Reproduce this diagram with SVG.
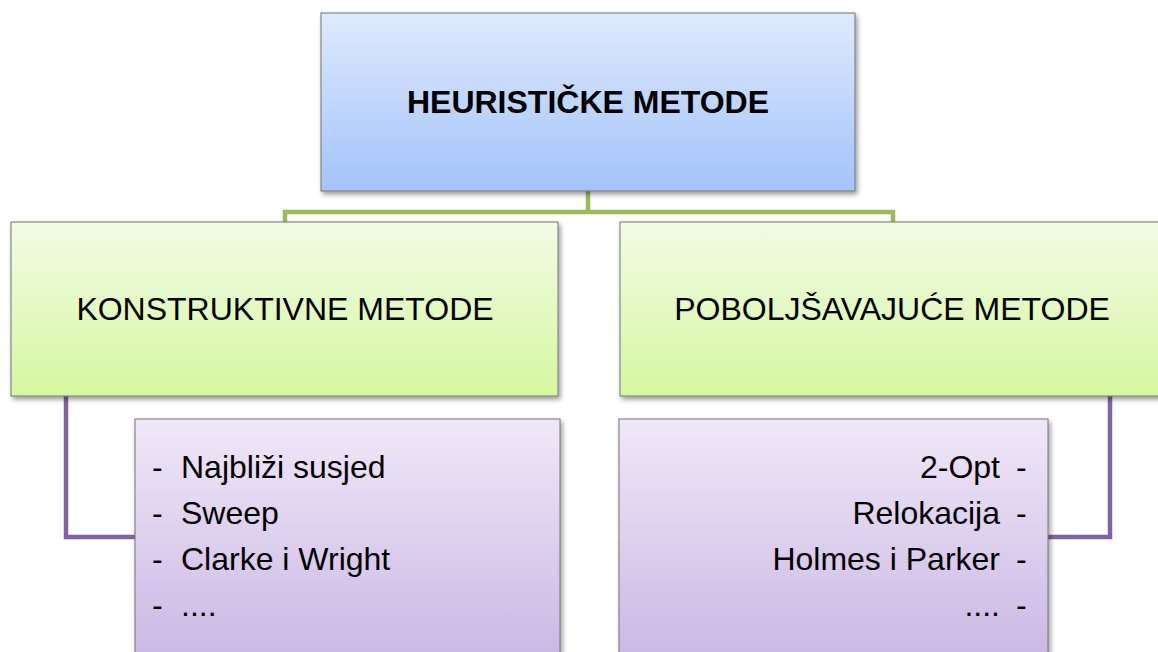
<svg xmlns="http://www.w3.org/2000/svg" width="1158" height="652" viewBox="0 0 1158 652">
  <style>
    .box { stroke: #747474; stroke-width: 1; filter: url(#shadow); }
    .lbl { font-family: "Liberation Sans", Arial, sans-serif; font-size: 32px; fill: #000; }
    .head { font-weight: bold; }
    .conn-g { fill: none; stroke: #9bbb59; stroke-width: 4.5; }
    .conn-p { fill: none; stroke: #8064a2; stroke-width: 4.5; }
  </style>
  <defs>
    <linearGradient id="gBlue" x1="0" y1="0" x2="0" y2="1">
      <stop offset="0" stop-color="#dfeafd"/>
      <stop offset="1" stop-color="#a3c3fa"/>
    </linearGradient>
    <linearGradient id="gGreen" x1="0" y1="0" x2="0" y2="1">
      <stop offset="0" stop-color="#f2fbe5"/>
      <stop offset="1" stop-color="#d6f7a0"/>
    </linearGradient>
    <linearGradient id="gPurple" x1="0" y1="0" x2="0" y2="1">
      <stop offset="0" stop-color="#efe8f8"/>
      <stop offset="1" stop-color="#c9b3e3"/>
    </linearGradient>
    <filter id="shadow" x="-5%" y="-5%" width="112%" height="115%">
      <feGaussianBlur in="SourceAlpha" stdDeviation="2.5"/>
      <feOffset dx="2" dy="3" result="b"/>
      <feComponentTransfer><feFuncA type="linear" slope="0.4"/></feComponentTransfer>
      <feMerge><feMergeNode/><feMergeNode in="SourceGraphic"/></feMerge>
    </filter>
  </defs>

  <!-- connectors -->
  <g id="connectors">
    <path class="conn-g" d="M588,191 V212 M285,224 V212 H893 V224"/>
    <path class="conn-p" d="M66,396 V537 H136"/>
    <path class="conn-p" d="M1110,396 V537 H1047"/>
  </g>

  <!-- root -->
  <g id="node-heuristicke">
    <rect class="box" x="321" y="13" width="534" height="178" fill="url(#gBlue)"/>
    <text class="lbl head" x="588" y="113" text-anchor="middle">HEURISTIČKE METODE</text>
  </g>

  <!-- second level -->
  <g id="node-konstruktivne">
    <rect class="box" x="11" y="222" width="547" height="174" fill="url(#gGreen)"/>
    <text class="lbl" x="285" y="320" text-anchor="middle">KONSTRUKTIVNE METODE</text>
  </g>
  <g id="node-poboljsavajuce">
    <rect class="box" x="620" y="222" width="546" height="174" fill="url(#gGreen)"/>
    <text class="lbl" x="892" y="320" text-anchor="middle">POBOLJŠAVAJUĆE METODE</text>
  </g>

  <!-- method lists -->
  <g id="node-konstruktivne-list">
    <rect class="box" x="135" y="419" width="425" height="260" fill="url(#gPurple)"/>
    <g class="lbl">
      <text x="152" y="478">-</text><text x="181" y="478">Najbliži susjed</text>
      <text x="152" y="524">-</text><text x="181" y="524">Sweep</text>
      <text x="152" y="570">-</text><text x="181" y="570">Clarke i Wright</text>
      <text x="152" y="616">-</text><text x="181" y="616">....</text>
    </g>
  </g>
  <g id="node-poboljsavajuce-list">
    <rect class="box" x="619" y="419" width="429" height="260" fill="url(#gPurple)"/>
    <g class="lbl">
      <text x="1000" y="478" text-anchor="end">2-Opt</text><text x="1016" y="478">-</text>
      <text x="1000" y="524" text-anchor="end">Relokacija</text><text x="1016" y="524">-</text>
      <text x="1000" y="570" text-anchor="end">Holmes i Parker</text><text x="1016" y="570">-</text>
      <text x="1000" y="616" text-anchor="end">....</text><text x="1016" y="616">-</text>
    </g>
  </g>
</svg>
